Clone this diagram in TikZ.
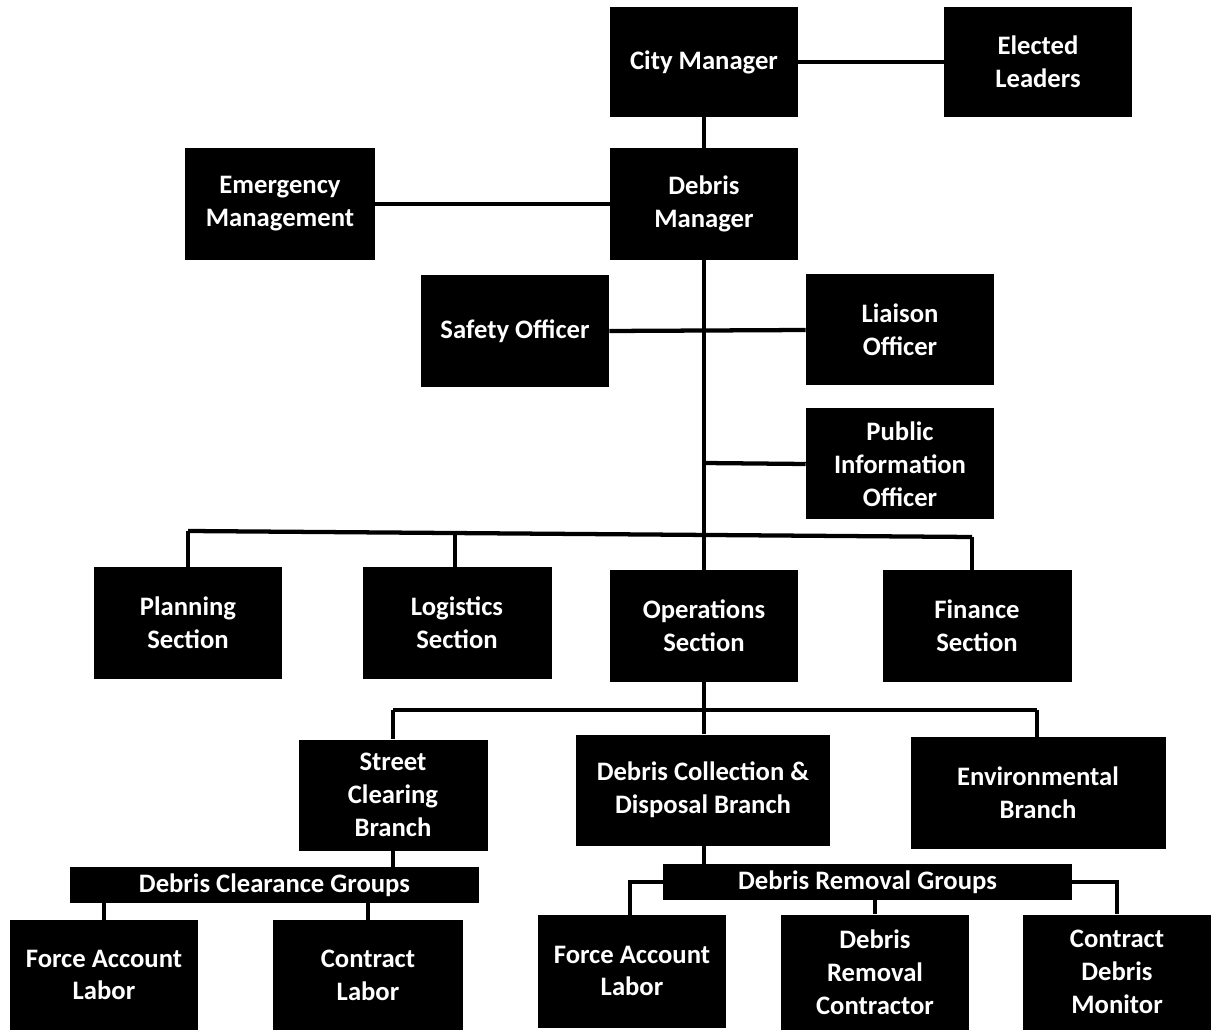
\documentclass[tikz,border=0pt]{standalone}
\usepackage{fontspec}
\setmainfont{Carlito}
\begin{document}
\begin{tikzpicture}[x=0.75pt,y=-0.75pt,
  box/.style={fill=black,text=white,inner sep=0pt,align=center,
    font=\fontsize{20}{24.6}\selectfont\bfseries},
  ln/.style={line width=3.2pt,black}]
\useasboundingbox (0,0) rectangle (1215,1030);
\newcommand{\bx}[6]{\node[box,minimum width=#4*0.75pt,minimum height=#5*0.75pt] (#1) at (#2,#3) {#6};}
\bx{cm}{704}{62}{188}{110}{City Manager}
\bx{el}{1038}{62}{188}{110}{Elected\\Leaders}
\bx{em}{280}{204}{190}{112}{Emergency\\Management}
\bx{dm}{704}{204}{188}{112}{Debris\\Manager}
\bx{so}{515}{331}{188}{112}{Safety Officer}
\bx{lo}{900}{330}{188}{111}{Liaison\\Officer}
\bx{pio}{900}{464}{188}{111}{Public\\Information\\Officer}
\bx{ps}{188}{623}{188}{111}{Planning\\Section}
\bx{ls}{457}{623}{189}{111}{Logistics\\Section}
\bx{os}{704}{626}{188}{112}{Operations\\Section}
\bx{fs}{977}{626}{189}{111}{Finance\\Section}
\bx{sc}{393}{795}{189}{111}{Street\\Clearing\\Branch}
\bx{dc}{703}{790}{254}{111}{Debris Collection \&\\Disposal Branch}
\bx{eb}{1038}{793}{255}{112}{Environmental\\Branch}
\bx{dcg}{274.5}{885}{409}{36}{Debris Clearance Groups}
\bx{drg}{867.5}{882}{409}{36}{Debris Removal Groups}
\bx{fa1}{104}{975}{188}{110}{Force Account\\Labor}
\bx{cl}{368}{975}{190}{110}{Contract\\Labor}
\bx{fa2}{632}{971}{188}{113}{Force Account\\Labor}
\bx{drc}{875}{972}{188}{115}{Debris\\Removal\\Contractor}
\bx{cdm}{1117}{972}{188}{115}{Contract\\Debris\\Monitor}
% connectors
\coordinate (pj) at (704,463);
\coordinate (sl) at (188,531);
\coordinate (sr) at (972,537);
\coordinate (oj) at (704,710);
\draw[ln] (cm.east) -- (el.west);
\draw[ln] (cm.south) -- (dm.north);
\draw[ln] (em.east) -- (dm.west);
\draw[ln] (dm.south) -- (os.north);
\draw[ln] (so.east) -- (lo.west);
\draw[ln] (pj) -- (pio.west);
\draw[ln] (sl) -- (sr);
\draw[ln] (sl) -- (ps.north);
\draw[ln] (455,533) -- (ls.north -| 455,0);
\draw[ln] (sr) -- (fs.north -| sr);
\draw[ln] (os.south) -- (oj);
\draw[ln] (393,710) -- (1037,710);
\draw[ln] (393,710) -- (sc.north);
\draw[ln] (oj) -- (dc.north -| oj);
\draw[ln] (1037,710) -- (eb.north -| 1037,0);
\draw[ln] (sc.south) -- (dcg.north -| sc.south);
\draw[ln] (dc.south -| oj) -- (drg.north -| oj);
\draw[ln] (dcg.south -| fa1.north) -- (fa1.north);
\draw[ln] (dcg.south -| cl.north) -- (cl.north);
\draw[ln] (drg.west) -| (630,915);
\draw[ln] (drg.south -| drc.north) -- (drc.north);
\draw[ln] (drg.east) -| (cdm.north);
\end{tikzpicture}
\end{document}
